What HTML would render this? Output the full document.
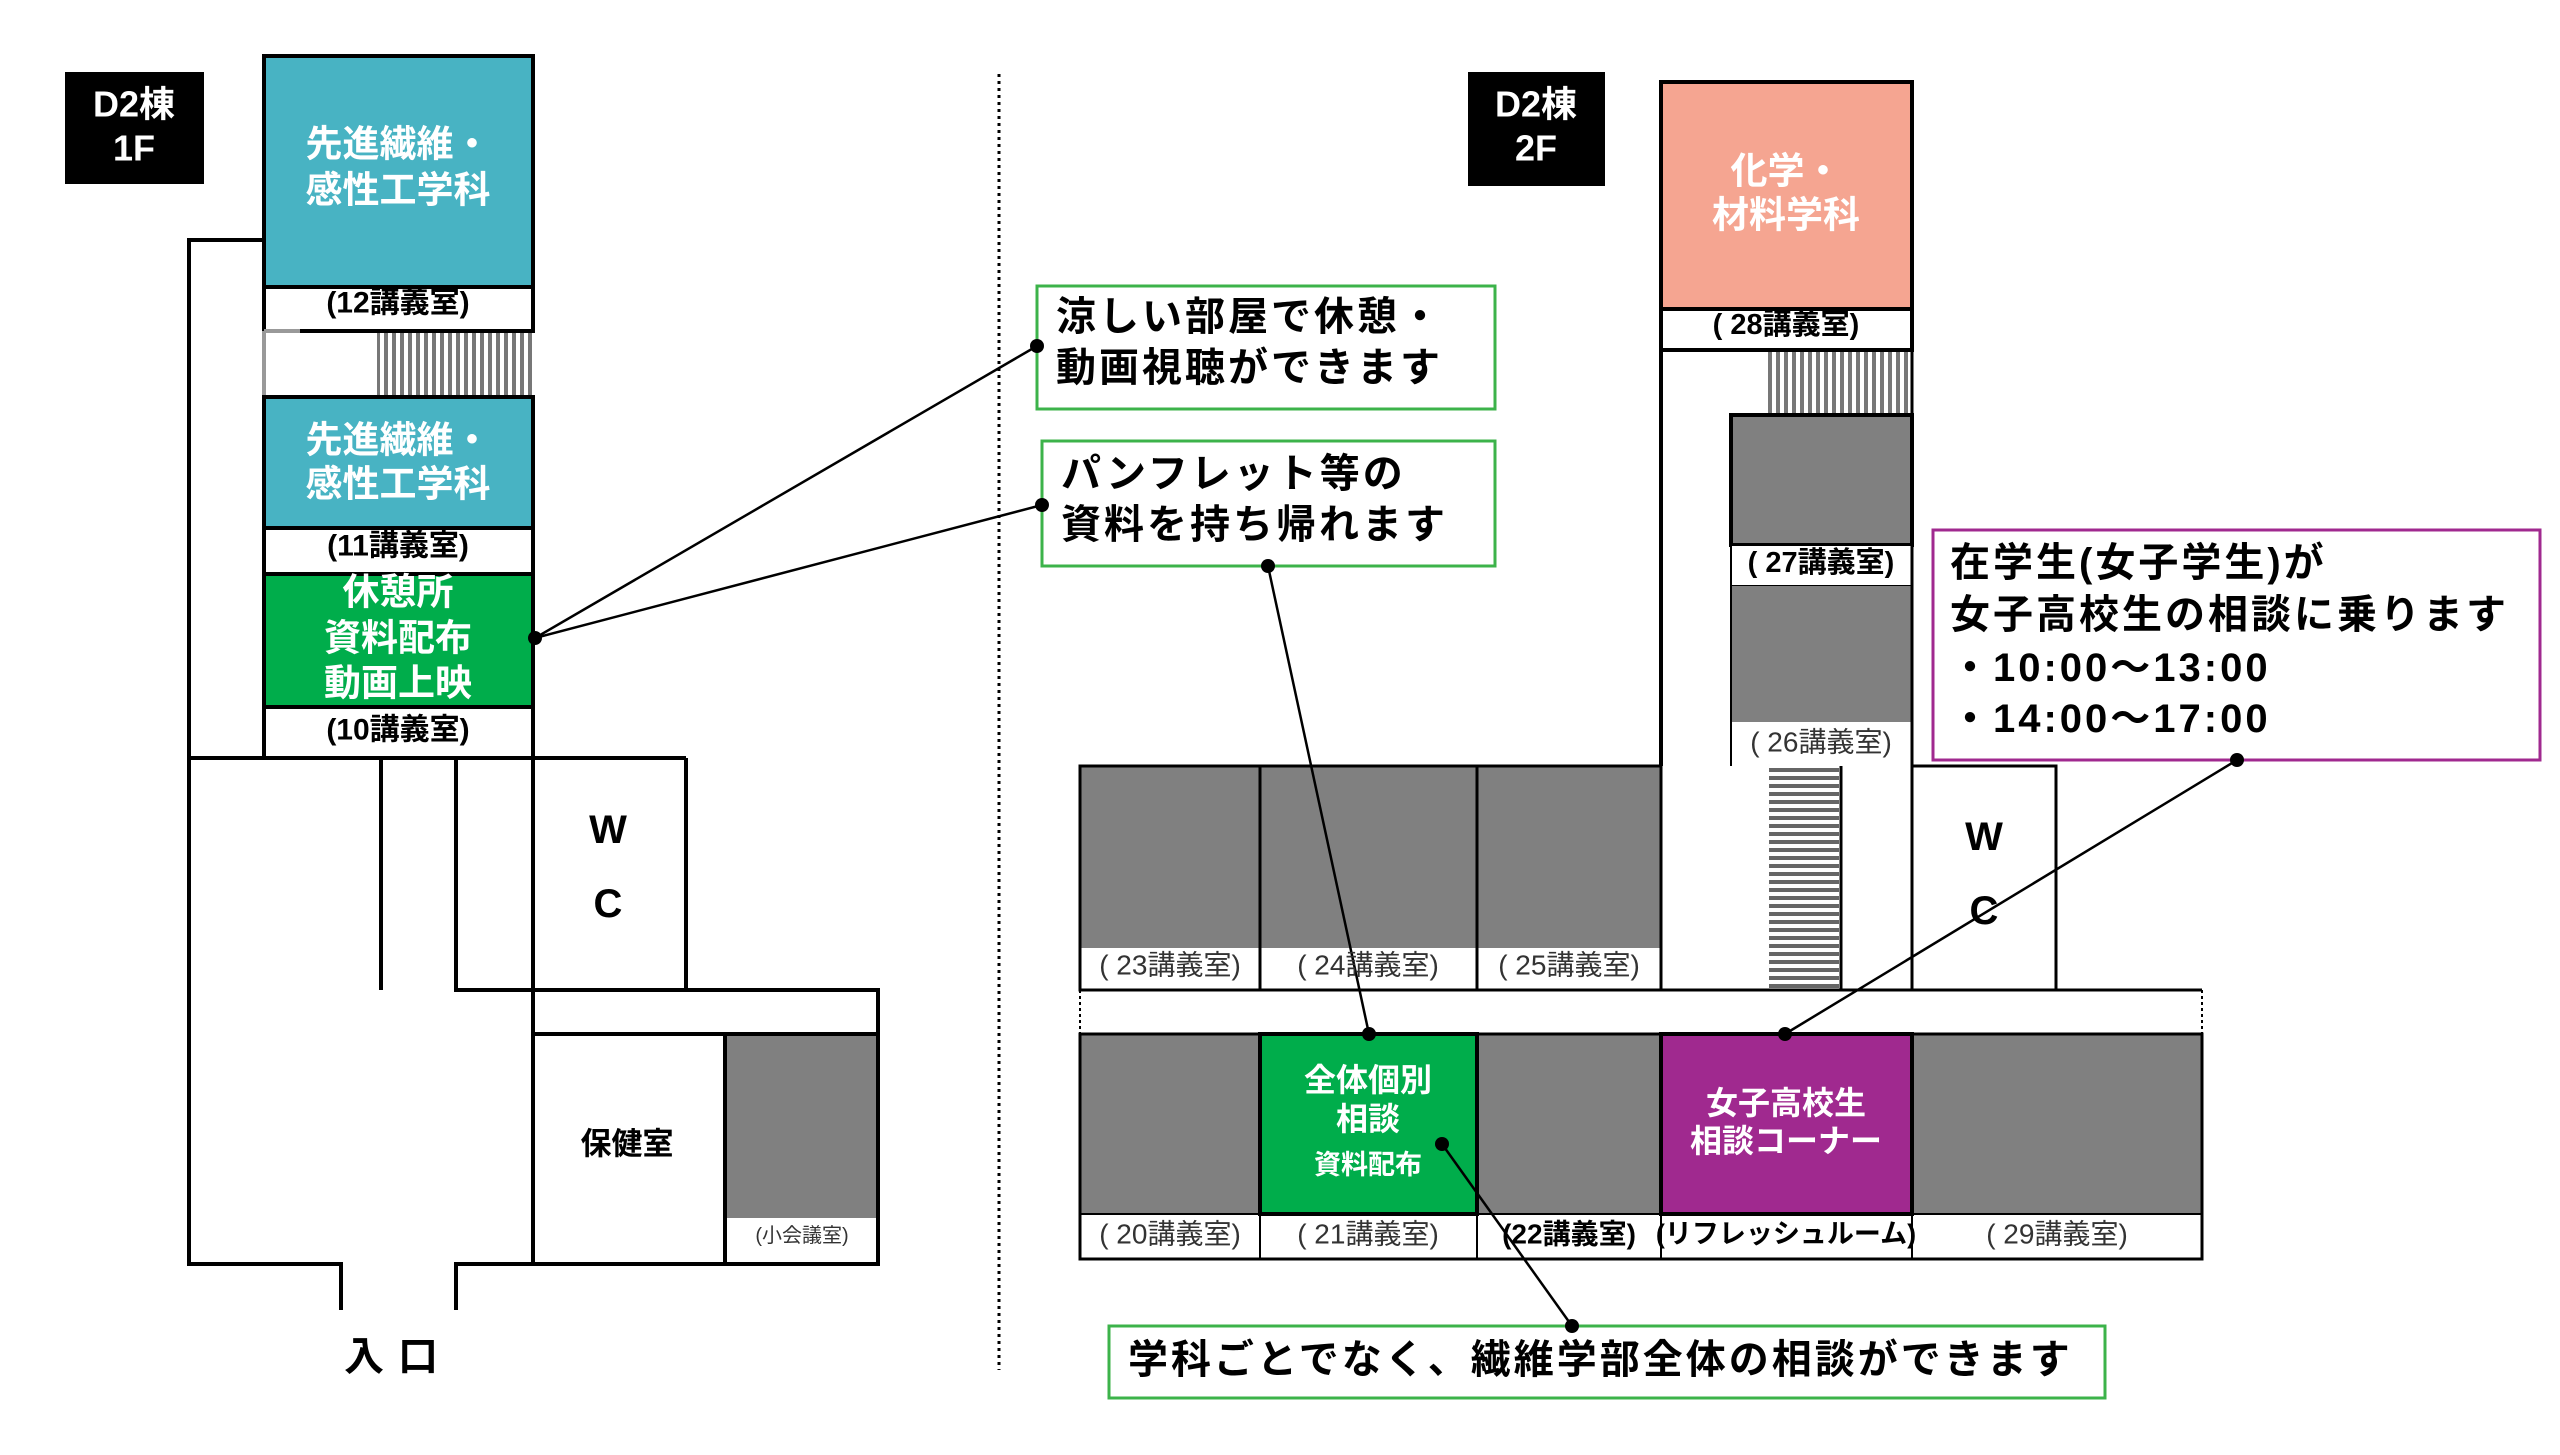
<!DOCTYPE html>
<html><head><meta charset="utf-8"><style>
html,body{margin:0;padding:0;background:#fff}
svg{display:block}
text{font-family:"Liberation Sans","Noto Sans CJK JP",sans-serif;dominant-baseline:central}
</style></head><body>
<svg width="2560" height="1455" viewBox="0 0 2560 1455" xmlns="http://www.w3.org/2000/svg">
<defs>
<pattern id="vh" width="8" height="10" patternUnits="userSpaceOnUse"><rect width="8" height="10" fill="#fff"/><rect width="4" height="10" fill="#777"/></pattern>
<pattern id="hh" width="10" height="8" patternUnits="userSpaceOnUse"><rect width="10" height="8" fill="#fff"/><rect width="10" height="4" fill="#666"/></pattern>
</defs>
<g stroke="#000" stroke-width="4" fill="none">
<!-- LEFT 1F -->
<rect x="67" y="74" width="135" height="108" fill="#000"/>
<polyline points="264,240 189,240 189,1264 341,1264 341,1310"/>
<polyline points="456,1310 456,1264 878,1264 878,1034"/>
<rect x="264" y="56" width="269" height="231" fill="#48b3c3"/>
<rect x="264" y="287" width="269" height="44" fill="#fff"/>
<rect x="377" y="333" width="155" height="64" fill="url(#vh)" stroke="none"/>
<line x1="264" y1="331" x2="264" y2="397" stroke="#999"/>
<line x1="264" y1="331" x2="300" y2="331" stroke="#999"/>
<rect x="264" y="397" width="269" height="131" fill="#48b3c3"/>
<rect x="264" y="528" width="269" height="46" fill="#fff"/>
<rect x="264" y="574" width="269" height="133" fill="#00ad4b"/>
<line x1="264" y1="707" x2="264" y2="758"/>
<line x1="533" y1="707" x2="533" y2="1264"/>
<line x1="189" y1="758" x2="686" y2="758"/>
<line x1="381" y1="758" x2="381" y2="990"/>
<polyline points="456,758 456,990 878,990 878,1034"/>
<line x1="686" y1="758" x2="686" y2="990"/>
<line x1="533" y1="1034" x2="878" y2="1034"/>
<rect x="727" y="1036" width="149" height="182" fill="#808080" stroke="none"/>
<line x1="725" y1="1034" x2="725" y2="1264"/>
<!-- divider -->
<line x1="999" y1="74" x2="999" y2="1370" stroke-width="3" stroke-dasharray="3,4"/>
<!-- RIGHT 2F -->
<rect x="1470" y="74" width="133" height="110" fill="#000"/>
<rect x="1661" y="82" width="251" height="227" fill="#f5a591"/>
<rect x="1661" y="309" width="251" height="41" fill="#fff"/>
<line x1="1661" y1="350" x2="1661" y2="766"/>
<rect x="1766" y="352" width="145" height="63" fill="url(#vh)" stroke="none"/>
<rect x="1731" y="415" width="181" height="130" fill="#808080"/>
<rect x="1731" y="545" width="181" height="41" fill="#fff" stroke-width="2"/>
<rect x="1731" y="586" width="181" height="136" fill="#808080" stroke="none"/>
<line x1="1731" y1="586" x2="1731" y2="766" stroke-width="2"/>
<line x1="1912" y1="350" x2="1912" y2="990" stroke-width="3"/>
<rect x="1769" y="766" width="70" height="224" fill="url(#hh)" stroke="none"/>
<line x1="1841" y1="766" x2="1841" y2="990" stroke-width="3"/>
<rect x="1912" y="766" width="144" height="224" fill="#fff" stroke-width="3"/>
<!-- upper row -->
<rect x="1081" y="767" width="580" height="181" fill="#808080" stroke="none"/>
<rect x="1080" y="766" width="581" height="224" stroke-width="3"/>
<line x1="1260" y1="766" x2="1260" y2="990" stroke-width="3"/>
<line x1="1477" y1="766" x2="1477" y2="990" stroke-width="3"/>
<line x1="1080" y1="990" x2="2202" y2="990" stroke-width="3"/>
<line x1="2202" y1="990" x2="2202" y2="1034" stroke-width="2" stroke-dasharray="3,3"/>
<line x1="1080" y1="990" x2="1080" y2="1034" stroke-width="2" stroke-dasharray="3,3"/>
<!-- lower row -->
<rect x="1081" y="1034" width="1121" height="180" fill="#808080" stroke="none"/>
<rect x="1260" y="1034" width="217" height="180" fill="#00ad4b"/>
<rect x="1661" y="1034" width="251" height="180" fill="#a0298f"/>
<rect x="1080" y="1034" width="1122" height="225" stroke-width="3"/>
<line x1="1260" y1="1214" x2="1260" y2="1259" stroke-width="2"/>
<line x1="1477" y1="1214" x2="1477" y2="1259" stroke-width="2"/>
<line x1="1661" y1="1214" x2="1661" y2="1259" stroke-width="2"/>
<line x1="1912" y1="1214" x2="1912" y2="1259" stroke-width="2"/>
<line x1="1080" y1="1214" x2="2202" y2="1214" stroke-width="2"/>
<!-- callouts -->
<rect x="1037" y="286" width="458" height="123" stroke="#3cb34a" stroke-width="3"/>
<rect x="1042" y="441" width="453" height="125" stroke="#3cb34a" stroke-width="3"/>
<rect x="1933" y="530" width="607" height="230" stroke="#a0298f" stroke-width="3"/>
<rect x="1109" y="1326" width="996" height="72" stroke="#3cb34a" stroke-width="3"/>
<!-- connectors -->
<g stroke-width="2.5">
<line x1="535" y1="638" x2="1037" y2="346"/>
<line x1="535" y1="638" x2="1042" y2="505"/>
<line x1="1268" y1="566" x2="1369" y2="1034"/>
<line x1="2237" y1="760" x2="1785" y2="1034"/>
<line x1="1442" y1="1144" x2="1572" y2="1326"/>
</g>
</g>
<g fill="#000">
<circle cx="535" cy="638" r="7"/><circle cx="1037" cy="346" r="7"/><circle cx="1042" cy="505" r="7"/>
<circle cx="1268" cy="566" r="7"/><circle cx="1369" cy="1034" r="7"/>
<circle cx="2237" cy="760" r="7"/><circle cx="1785" cy="1034" r="7"/>
<circle cx="1442" cy="1144" r="7"/><circle cx="1572" cy="1326" r="7"/>
</g>
<!-- text -->
<g font-weight="bold" text-anchor="middle">
<g fill="#fff" font-size="36"><text x="134" y="104">D2棟</text><text x="134" y="148">1F</text>
<text x="1536" y="104">D2棟</text><text x="1536" y="148">2F</text></g>
<g fill="#fff" font-size="37">
<text x="398" y="144">先進繊維・</text><text x="398" y="190">感性工学科</text>
<text x="398" y="440">先進繊維・</text><text x="398" y="484">感性工学科</text>
<text x="398" y="592">休憩所</text><text x="398" y="638">資料配布</text><text x="398" y="683">動画上映</text>
</g>
<g fill="#000" font-size="30">
<text x="398" y="303">(12講義室)</text>
<text x="398" y="546">(11講義室)</text>
<text x="398" y="730">(10講義室)</text>
</g>
<g fill="#000" font-size="40"><text x="608" y="830">W</text><text x="608" y="904">C</text>
<text x="1984" y="837">W</text><text x="1984" y="911">C</text></g>
<text x="627" y="1144" font-size="31" fill="#000">保健室</text>
<text x="802" y="1236" font-size="20" font-weight="normal" fill="#333">(小会議室)</text>
<text x="398" y="1357" font-size="40" fill="#000" letter-spacing="14">入口</text>
<g fill="#fff" font-size="37"><text x="1786" y="171">化学・</text><text x="1786" y="215">材料学科</text></g>
<g fill="#000" font-size="29"><text x="1786" y="325">( 28講義室)</text><text x="1821" y="563">( 27講義室)</text></g>
<g fill="#333" font-size="28" font-weight="normal">
<text x="1821" y="742">( 26講義室)</text>
<text x="1170" y="965">( 23講義室)</text><text x="1368" y="965">( 24講義室)</text><text x="1569" y="965">( 25講義室)</text>
<text x="1170" y="1234">( 20講義室)</text><text x="1368" y="1234">( 21講義室)</text>
<text x="2057" y="1234">( 29講義室)</text>
</g>
<g fill="#000" font-size="28"><text x="1569" y="1234">(22講義室)</text><text x="1786" y="1234" font-size="27">(リフレッシュルーム)</text></g>
<g fill="#fff" font-size="32">
<text x="1368" y="1080">全体個別</text><text x="1368" y="1119">相談</text>
<text x="1786" y="1103">女子高校生</text><text x="1786" y="1141">相談コーナー</text></g>
<text x="1368" y="1165" fill="#fff" font-size="27">資料配布</text>
</g>
<g font-weight="bold" fill="#000" font-size="40" letter-spacing="3">
<text x="1056" y="317">涼しい部屋で休憩・</text><text x="1056" y="368">動画視聴ができます</text>
<text x="1061" y="474">パンフレット等の</text><text x="1061" y="525">資料を持ち帰れます</text>
<text x="1950" y="563">在学生(女子学生)が</text><text x="1950" y="615">女子高校生の相談に乗ります</text>
<text x="1950" y="668">・10:00～13:00</text><text x="1950" y="719">・14:00～17:00</text>
<text x="1128" y="1360">学科ごとでなく、繊維学部全体の相談ができます</text>
</g>
</svg>
</body></html>
